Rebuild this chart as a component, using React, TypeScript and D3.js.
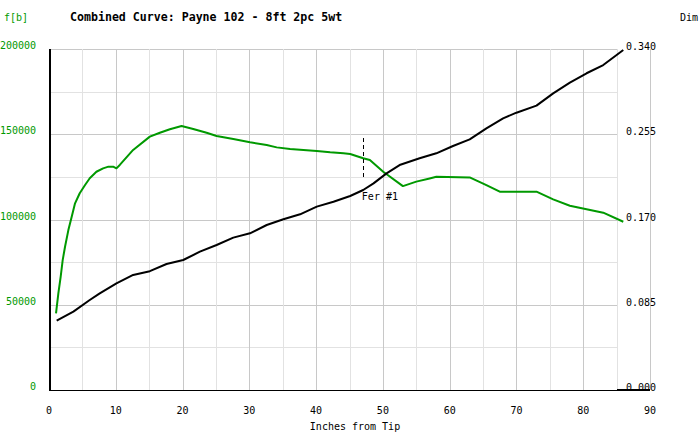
import React from "react";
import * as d3 from "d3";

const fbX = [1.05, 1.4, 1.75, 2.05, 2.4, 2.9, 3.4, 3.9, 4.6, 5.4, 6.1, 7.1, 8.1, 8.9, 9.6, 10.1, 10.6, 12.6, 15.1, 16.6, 18.1, 19.85, 21.6, 23.6, 25.1, 27.6, 30.1, 32.6, 34.1, 36.1, 38.1, 40.1, 42.1, 44.1, 45.1, 47.05, 48.05, 50.05, 53, 55, 57, 58, 63, 65.5, 67.5, 73, 75.5, 78, 80.5, 83, 86];
const fbV = [45000, 56700, 66500, 76200, 84000, 93800, 101600, 109500, 115400, 120200, 124200, 128000, 130000, 131000, 131000, 130000, 132000, 140800, 148600, 150900, 152900, 154800, 153100, 150900, 149000, 147200, 145300, 143700, 142300, 141300, 140800, 140200, 139400, 138800, 138400, 135900, 134900, 128000, 119600, 122200, 124100, 125100, 124700, 120200, 116300, 116300, 111800, 108100, 106000, 104000, 98700];

const dimX = [1.15, 3.65, 6.1, 7.6, 10.1, 12.6, 15.1, 17.6, 20.1, 22.6, 25.1, 27.6, 30.1, 32.6, 35.1, 37.6, 40.1, 42.6, 45.1, 47.05, 48.6, 50.55, 52.5, 55.5, 58, 60.5, 63, 65.5, 68, 70, 73, 75.5, 78, 80.5, 83, 86];
const dimV = [0.0691, 0.0781, 0.0897, 0.0964, 0.1064, 0.1147, 0.1185, 0.1256, 0.1296, 0.1379, 0.1446, 0.1519, 0.1562, 0.1645, 0.1702, 0.1752, 0.1828, 0.1877, 0.1934, 0.1994, 0.206, 0.216, 0.2243, 0.231, 0.236, 0.2433, 0.2499, 0.2609, 0.2709, 0.2765, 0.2835, 0.2958, 0.3065, 0.3158, 0.324, 0.339];

const xTicks = [0, 10, 20, 30, 40, 50, 60, 70, 80, 90];
const leftTicks = [0, 50000, 100000, 150000, 200000];
const rightTicks = [0, 0.085, 0.17, 0.255, 0.34];
const ferrules = [{ x: 47, label: "Fer #1" }];

const title = "Combined Curve: Payne 102 - 8ft 2pc 5wt";
const leftLabel = "f[b]";
const rightLabel = "Dim";
const xLabel = "Inches from Tip";

const GREEN = "#009900";
const FONT = "'DejaVu Sans Mono', monospace";

export default function App() {
  const x = d3.scaleLinear().domain([0, 90]).range([49, 650]);
  const yL = d3.scaleLinear().domain([0, 200000]).range([390, 49]);
  const yR = d3.scaleLinear().domain([0, 0.34]).range([390, 49]);
  const gridRight = x(85);

  const fbLine = d3.line<number>().x((_, i) => x(fbX[i])).y((v) => yL(v));
  const dimLine = d3.line<number>().x((_, i) => x(dimX[i])).y((v) => yR(v));

  const hGrid = d3.range(0, 200001, 25000);
  const vGrid = d3.range(5, 91, 5);

  return (
    <svg width={700} height={440} style={{ position: "absolute", left: 0, top: 0, background: "#fff" }}>
      <rect x={0} y={0} width={700} height={440} fill="#fff" />
      <g shapeRendering="crispEdges">
        {hGrid.map((v) => (
          <line key={"h" + v} x1={x(0)} x2={gridRight} y1={Math.round(yL(v)) + 0.5} y2={Math.round(yL(v)) + 0.5}
            stroke={v % 50000 === 0 ? "#c8c8c8" : "#e2e2e2"} strokeWidth={1} />
        ))}
        {vGrid.map((v) => (
          <line key={"v" + v} x1={Math.round(x(v)) + 0.5} x2={Math.round(x(v)) + 0.5} y1={yL(200000)} y2={yL(0)}
            stroke={v % 10 === 0 ? "#c8c8c8" : "#e2e2e2"} strokeWidth={1} />
        ))}
        <line x1={49.5} x2={49.5} y1={49} y2={391} stroke="#000" strokeWidth={2} />
        <line x1={49} x2={650} y1={390.5} y2={390.5} stroke="#000" strokeWidth={1} />
        <line x1={gridRight} x2={x(90)} y1={390} y2={390} stroke="#000" strokeWidth={2} />
      </g>

      <path d={fbLine(fbV) || ""} fill="none" stroke={GREEN} strokeWidth={2} strokeLinejoin="round" />
      <path d={dimLine(dimV) || ""} fill="none" stroke="#000" strokeWidth={2} strokeLinejoin="round" />

      {ferrules.map((f) => (
        <g key={f.label}>
          <line x1={Math.round(x(f.x)) + 0.5} x2={Math.round(x(f.x)) + 0.5} y1={138} y2={180} stroke="#000" strokeWidth={1} strokeDasharray="4,3" shapeRendering="crispEdges" />
          <text x={x(f.x) - 1} y={197} dominantBaseline="middle" fontFamily={FONT} fontSize={10} fill="#000">{f.label}</text>
        </g>
      ))}

      {leftTicks.map((v) => (
        <text key={"l" + v} x={36} y={yL(v) - 3} textAnchor="end" dominantBaseline="middle" fontFamily={FONT} fontSize={10} fill={GREEN}>{v}</text>
      ))}
      {rightTicks.map((v) => (
        <text key={"r" + v} x={626} y={yR(v) - 2} dominantBaseline="middle" fontFamily={FONT} fontSize={10} fill="#000">{v.toFixed(3)}</text>
      ))}
      {xTicks.map((v) => (
        <text key={"x" + v} x={x(v)} y={411} textAnchor="middle" dominantBaseline="middle" fontFamily={FONT} fontSize={10} fill="#000">{v}</text>
      ))}

      <text x={4} y={18} dominantBaseline="middle" fontFamily={FONT} fontSize={10} fill={GREEN}>{leftLabel}</text>
      <text x={70} y={17} dominantBaseline="middle" fontFamily={FONT} fontSize={11.6} fontWeight="bold" fill="#000">{title}</text>
      <text x={680} y={18} dominantBaseline="middle" fontFamily={FONT} fontSize={10} fill="#000">{rightLabel}</text>
      <text x={355} y={427} textAnchor="middle" dominantBaseline="middle" fontFamily={FONT} fontSize={10} fill="#000">{xLabel}</text>
    </svg>
  );
}
